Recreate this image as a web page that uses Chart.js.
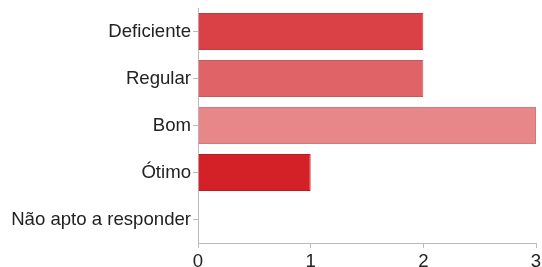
<!DOCTYPE html>
<html>
<head>
<meta charset="utf-8">
<script src="https://cdn.jsdelivr.net/npm/chart.js@4"></script>
<style>
  html, body { margin: 0; padding: 0; background: #fff; }
  #wrap { width: 542px; height: 267px; }
</style>
</head>
<body>
<div id="wrap"><canvas id="barChart" width="542" height="267"></canvas></div>
<script>
const categories = ['Deficiente', 'Regular', 'Bom', 'Ótimo', 'Não apto a responder'];
const counts = [2, 2, 3, 1, 0];
const xTicks = [0, 1, 2, 3];

const barColors = ['#d94146', '#e06367', '#e88789', '#d42027', '#d42027'];
const barBorders = ['#c23a3e', '#c9585c', '#d07a7c', '#bb1c22', '#bb1c22'];

const ctx = document.getElementById('barChart').getContext('2d');
new Chart(ctx, {
  type: 'bar',
  data: {
    labels: categories,
    datasets: [
      {
        data: counts,
        backgroundColor: barColors,
        borderColor: barBorders,
        borderWidth: 1,
        barPercentage: 0.79,
        categoryPercentage: 1,
      },
    ],
  },
  options: {
    indexAxis: 'y',
    responsive: false,
    animation: false,
    layout: { padding: { top: 8, right: 6, left: 0, bottom: 0 } },
    plugins: {
      legend: { display: false },
      tooltip: { enabled: false },
    },
    scales: {
      x: {
        min: 0,
        max: 3,
        afterBuildTicks: (scale) => {
          scale.ticks = xTicks.map((v) => ({ value: v }));
        },
        afterFit: (scale) => {
          scale.height = 24;
          scale.paddingLeft = 0;
          scale.paddingRight = 0;
        },
        grid: { drawOnChartArea: false, tickLength: 5, color: '#bbb' },
        border: { display: true, color: '#bbb' },
        ticks: { color: '#222', font: { family: 'Liberation Sans', size: 18.6 }, padding: 3 },
      },
      y: {
        afterFit: (scale) => {
          scale.width = 198;
          scale.paddingTop = 0;
          scale.paddingBottom = 0;
        },
        grid: { drawOnChartArea: false, offset: false, tickLength: 5, color: '#bbb' },
        border: { display: true, color: '#bbb' },
        ticks: { color: '#222', font: { family: 'Liberation Sans', size: 18.6 }, padding: 2 },
      },
    },
  },
});
</script>
</body>
</html>
